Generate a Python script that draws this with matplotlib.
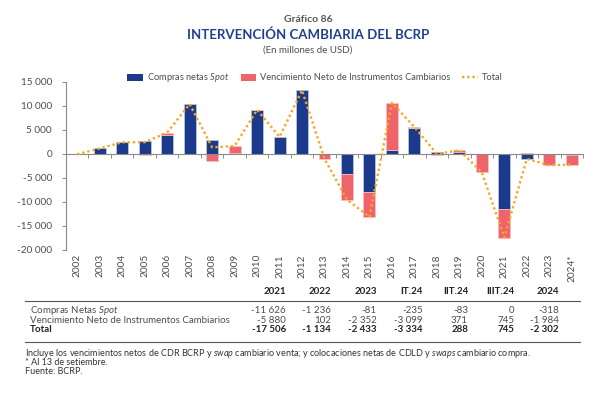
import numpy as np
import matplotlib
matplotlib.use("Agg")
import matplotlib.pyplot as plt
from matplotlib.patches import Patch
from matplotlib.lines import Line2D
from matplotlib.transforms import blended_transform_factory

FONT = "Lato"
plt.rcParams['font.family'] = [FONT, 'DejaVu Sans']
plt.rcParams['mathtext.fontset'] = 'custom'
plt.rcParams['mathtext.rm'] = FONT
plt.rcParams['mathtext.it'] = FONT + ':italic'
plt.rcParams['mathtext.bf'] = FONT + ':bold'

# ---------------- data ----------------
years = ['2002', '2003', '2004', '2005', '2006', '2007', '2008', '2009', '2010',
         '2011', '2012', '2013', '2014', '2015', '2016', '2017', '2018', '2019',
         '2020', '2021', '2022', '2023', '2024*']
spot = [0, 1050, 2340, 2699, 3944, 10306, 2754, 108, 8963, 3537, 13179, 0,
        -4228, -8064, 760, 5318, 300, 400, 0, -11626, -1236, -81, -318]
venc = [-150, 0, 0, -350, 400, 0, -1460, 1450, 150, -80, 0, -1100,
        -5400, -5130, 9790, 200, -380, 250, -3900, -5880, 102, -2352, -1984]

yticks = [15000, 10000, 5000, 0, -5000, -10000, -15000, -20000]

tbl_cols = ['2021', '2022', '2023', 'IT.24', 'IIT.24', 'IIIT.24', '2024']
tbl_rows = ['Compras Netas $\\it{Spot}$',
            'Vencimiento Neto de Instrumentos Cambiarios',
            'Total']
tbl_spot = [-11626, -1236, -81, -235, -83, 0, -318]
tbl_venc = [-5880, 102, -2352, -3099, 371, 745, -1984]
tbl_total = [-17506, -1134, -2433, -3334, 288, 745, -2302]

# ---------------- style ----------------
BLUE = '#1c3a8c'
RED = '#ef636b'
ORANGE = '#f7a823'
GREY = '#4d4d4d'
TITLE_BLUE = '#1f3f8f'
SPINE = '#8a8a8a'

W, H = 600, 396
fig = plt.figure(figsize=(W / 100, H / 100), dpi=100)


def fx(px):
    return px / W


def fy(py):
    return 1 - py / H


ax_left, ax_right, ax_top, ax_bot = 66, 583, 81.5, 249.5
ax = fig.add_axes([fx(ax_left), fy(ax_bot), fx(ax_right) - fx(ax_left),
                   fy(ax_top) - fy(ax_bot)])

x = np.arange(len(years))
spot_a = np.array(spot, dtype=float)
venc_a = np.array(venc, dtype=float)
total_a = spot_a + venc_a
bottom_v = np.where(np.sign(venc_a) == np.sign(spot_a), spot_a, 0.0)

bw = 0.53
ax.bar(x, spot_a, width=bw, color=BLUE, edgecolor='#c3cbe3', linewidth=0.5, zorder=2)
ax.bar(x, venc_a, bottom=bottom_v, width=bw, color=RED, edgecolor='#f8c4c6',
       linewidth=0.5, zorder=2)
ax.plot(x, total_a, color=ORANGE, lw=1.7, linestyle=(0, (1, 1.2)), zorder=4)

ax.set_xlim(-0.5, len(years) - 0.5)
ax.set_ylim(-20000, 15000)
ax.set_yticks(yticks)
ax.set_yticklabels([f"{v:,}".replace(',', ' ') for v in yticks])
ax.tick_params(axis='y', direction='out', length=3, width=0.7, color=SPINE,
               labelsize=7.2, labelcolor=GREY, pad=7)

for s in ['top', 'right']:
    ax.spines[s].set_visible(False)
ax.spines['left'].set_color(SPINE)
ax.spines['left'].set_linewidth(0.8)
ax.spines['bottom'].set_position(('data', 0))
ax.spines['bottom'].set_color(SPINE)
ax.spines['bottom'].set_linewidth(0.8)
ax.set_xticks(np.arange(-0.5, len(years), 1.0))
ax.set_xticklabels([])
ax.tick_params(axis='x', direction='out', length=3, width=0.7, color=SPINE)

trans = blended_transform_factory(ax.transData, fig.transFigure)
for i, lab in enumerate(years):
    ax.text(i, fy(254), lab, rotation=90, ha='center', va='top', fontsize=7.3,
            color=GREY, transform=trans)

# legend
handles = [Patch(facecolor=BLUE, edgecolor='none'),
           Patch(facecolor=RED, edgecolor='none'),
           Line2D([0], [0], color=ORANGE, lw=1.7, linestyle=(0, (1, 1.2)))]
labels = ['Compras netas $\\it{Spot}$',
          'Vencimiento Neto de Instrumentos Cambiarios', 'Total']
fig.legend(handles, labels, loc='center', bbox_to_anchor=(fx(315), fy(78)),
           ncol=3, frameon=False, fontsize=6.7, labelcolor=GREY,
           handlelength=1.65, handleheight=0.75, handletextpad=0.45,
           columnspacing=1.25, borderpad=0)

# titles
fig.text(fx(308), fy(19), 'Gráfico 86', ha='center', va='center', fontsize=7.5,
         fontweight='bold', color='#555555')
fig.text(fx(308), fy(35), 'INTERVENCIÓN CAMBIARIA DEL BCRP', ha='center',
         va='center', fontsize=9.5, fontweight='bold', color=TITLE_BLUE)
fig.text(fx(308), fy(50), '(En millones de USD)', ha='center', va='center',
         fontsize=7, color=GREY)

# table
col_x = [286, 331, 377, 423, 468, 514, 559]


def fmt(v):
    s = f"{abs(v):,}".replace(',', ' ')
    return ('-' if v < 0 else '') + s


for cx, c in zip(col_x, tbl_cols):
    fig.text(fx(cx), fy(292), c, ha='right', va='center', fontsize=7,
             fontweight='bold', color='#222222')
fig.add_artist(Line2D([fx(25), fx(580)], [fy(301), fy(301)], color='#555555',
                      lw=0.8))
fig.add_artist(Line2D([fx(25), fx(580)], [fy(341.5), fy(341.5)], color='#555555',
                      lw=0.8))
row_y = [310.5, 320.5, 330]
for ry, rl, vals in zip(row_y, tbl_rows, [tbl_spot, tbl_venc, tbl_total]):
    bold = rl == 'Total'
    fig.text(fx(30), fy(ry), rl, ha='left', va='center', fontsize=7,
             fontweight='bold' if bold else 'normal',
             color='#222222' if bold else GREY)
    for cx, v in zip(col_x, vals):
        fig.text(fx(cx), fy(ry), fmt(v), ha='right', va='center', fontsize=7,
                 fontweight='bold' if bold else 'normal',
                 color='#222222' if bold else GREY)

# footnotes
notes = ['Incluye los vencimientos netos de CDR BCRP y $\\it{swap}$ cambiario venta; '
         'y colocaciones netas de CDLD y $\\it{swaps}$ cambiario compra.',
         '* Al 13 de setiembre.',
         'Fuente: BCRP.']
for ny, n in zip([353, 362.5, 372], notes):
    fig.text(fx(25), fy(ny), n, ha='left', va='center', fontsize=6.5, color='#333333')

fig.savefig('out.png', dpi=100)
